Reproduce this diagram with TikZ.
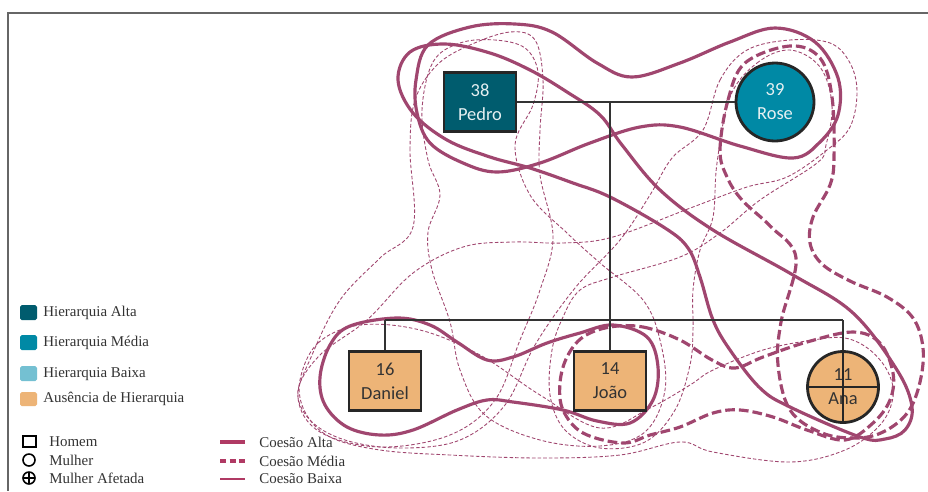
\documentclass[tikz,border=0pt]{standalone}
\usepackage{fontspec}
\setmainfont{Liberation Serif}
\newfontfamily\nodefont{Carlito}
\definecolor{hAlta}{HTML}{005C6E}
\definecolor{hMedia}{HTML}{0089A5}
\definecolor{hBaixa}{HTML}{74C0D2}
\definecolor{ausencia}{HTML}{EDB477}
\definecolor{coes}{HTML}{A0466F}
\definecolor{coesleg}{HTML}{B03A64}
\definecolor{nodeborder}{HTML}{262626}
\definecolor{kinline}{HTML}{333333}
\definecolor{framegray}{HTML}{666666}
\definecolor{legendtext}{HTML}{333333}
\definecolor{darktext}{HTML}{333333}
\definecolor{lighttext}{HTML}{E6F0F2}
\begin{document}
\begin{tikzpicture}[x=0.02cm,y=-0.02cm,
  person/.style={draw=nodeborder,line width=1.6pt,font=\nodefont\fontsize{10.5}{13.7}\selectfont,align=center,inner sep=0pt},
  homem/.style={person,rectangle,minimum width=1.44cm,minimum height=1.18cm},
  mulher/.style={person,circle},
  kin/.style={draw=kinline,line width=0.8pt},
  alta/.style={draw=coes,line width=1.8pt},
  media/.style={draw=coes,line width=1.8pt,dash pattern=on 5.5pt off 2.3pt},
  baixa/.style={draw=coes,line width=0.5pt,dash pattern=on 2pt off 1.2pt},
  legtext/.style={anchor=west,font=\fontsize{8.5}{10}\selectfont,text=legendtext,inner sep=0pt},
  swatch/.style={rounded corners=1pt,draw=none},
  legsym/.style={draw=black,line width=0.9pt},
  leglinea/.style={draw=coesleg,line width=1.8pt},
  leglineb/.style={draw=coesleg,line width=1.8pt,dash pattern=on 3.5pt off 2pt},
  leglinec/.style={draw=coesleg,line width=0.6pt},
]
\useasboundingbox (0,0) rectangle (928,491);
\fill[white] (0,0) rectangle (928,491);

% outer frame
\draw[draw=framegray,line width=0.8pt] (928,13) -- (8,13) -- (8,491);

% ---------- low cohesion (thin dashed) ----------
% Pedro - Daniel
\draw[baixa] plot[smooth cycle,tension=0.6] coordinates {
 (413,227) (410,150) (415,100) (437,65) (470,45) (510,32) (535,40) (543,80)
 (540,130) (540,175) (553,237) (540,290) (520,340) (495,400) (450,435)
 (380,447) (320,432) (298,398) (312,355) (340,300) (380,258)};
% Pedro - Joao
\draw[baixa] plot[smooth cycle,tension=0.6] coordinates {
 (422,110) (433,62) (460,43) (495,40) (525,48) (538,72) (533,105) (515,145)
 (530,195) (567,233) (600,263) (643,300) (660,340) (665,390) (645,432)
 (600,446) (540,440) (485,415) (460,370) (450,322) (432,270) (428,232)
 (440,195) (428,160)};
% Rose - Daniel
\draw[baixa] plot[smooth cycle,tension=0.6] coordinates {
 (703,130) (720,80) (747,50) (790,40) (830,43) (850,63) (857,92) (850,127)
 (827,150) (787,177) (747,187) (693,207) (613,237) (563,243) (513,242)
 (463,247) (413,273) (367,320) (320,355) (298,390) (310,420) (345,440)
 (400,448) (460,440) (505,405) (535,345) (575,288) (620,240) (650,195) (672,158)};
% Rose - Joao
\draw[baixa] plot[smooth cycle,tension=0.6] coordinates {
 (730,97) (757,63) (790,50) (820,67) (832,105) (826,145) (817,163) (760,200)
 (720,233) (680,257) (613,277) (580,290) (563,317) (552,350) (550,395)
 (565,430) (600,448) (645,442) (675,410) (690,365) (693,330) (693,290)
 (700,250) (713,217) (717,163)};
% Daniel - Ana
\draw[baixa] plot[smooth cycle,tension=0.6] coordinates {
 (300,380) (318,343) (360,325) (420,330) (480,355) (540,395) (600,428)
 (650,408) (690,385) (713,370) (763,350) (813,340) (845,338) (870,350)
 (888,372) (893,397) (880,425) (845,450) (790,462) (713,452) (680,442)
 (620,455) (540,458) (450,455) (380,450) (330,437) (305,412)};

% ---------- medium cohesion (thick dashed) ----------
% Rose - Ana
\draw[media] plot[smooth cycle,tension=0.6] coordinates {
 (720,150) (728,100) (745,63) (790,46) (820,58) (832,97) (834,157) (830,185)
 (813,217) (810,243) (822,264) (850,281) (887,297) (913,318) (923,348)
 (920,382) (908,412) (885,431) (858,438) (822,433) (790,410) (778,365)
 (781,322) (796,258) (770,226) (742,200) (727,177)};
% Joao - Ana
\draw[media] plot[smooth cycle,tension=0.6] coordinates {
 (610,327) (643,327) (680,340) (712,360) (735,368) (763,357) (807,342)
 (853,332) (880,343) (893,373) (890,400) (873,423) (845,440) (807,430)
 (773,417) (740,410) (713,413) (680,427) (650,435) (623,443) (583,433)
 (563,410) (560,383) (567,357) (583,337)};

% ---------- high cohesion (thick solid) ----------
% Pedro - Rose
\draw[alta] plot[smooth cycle,tension=0.6] coordinates {
 (428,45) (470,27) (515,24) (552,32) (597,63) (632,77) (680,63) (730,42)
 (775,28) (815,42) (838,78) (838,115) (820,142) (793,158) (740,146)
 (680,127) (640,127) (590,143) (540,163) (497,172) (463,163) (430,143)
 (417,113) (416,80)};
% Pedro - Ana
\draw[alta] plot[smooth cycle,tension=0.6] coordinates {
 (398,80) (410,52) (445,44) (490,53) (530,70) (567,92) (600,115) (622,145)
 (660,190) (713,230) (793,275) (853,313) (897,370) (912,407) (905,430)
 (885,439) (860,437) (790,407) (760,388) (730,350) (713,320) (700,277)
 (688,248) (665,228) (610,197) (573,183) (530,168) (490,157) (447,140)
 (413,113)};
% Daniel - Joao
\draw[alta] plot[smooth cycle,tension=0.6] coordinates {
 (320,377) (330,345) (350,326) (397,318) (430,325) (457,342) (487,360)
 (513,357) (547,343) (580,333) (613,325) (647,337) (658,367) (653,400)
 (630,423) (597,421) (563,410) (513,402) (487,400) (457,410) (413,430)
 (380,435) (347,427) (325,405)};

% ---------- family members ----------
\node[homem,fill=hAlta,text=lighttext] (pedro) at (480,102) {38\\Pedro};
\node[mulher,fill=hMedia,text=lighttext,minimum size=1.56cm] (rose) at (775,102) {39\\Rose};
\node[homem,fill=ausencia,text=darktext] (daniel) at (385,381) {16\\Daniel};
\node[homem,fill=ausencia,text=darktext] (joao) at (610,381) {14\\João};
\node[mulher,fill=ausencia,minimum size=1.42cm] (ana) at (843,387) {};
\node[font=\nodefont\fontsize{10.5}{12}\selectfont,text=darktext,inner sep=0pt] (anaidade) at (843,375) {11};
\node[font=\nodefont\fontsize{10.5}{12}\selectfont,text=darktext,inner sep=0pt] (ananame) at (843,399) {Ana};
\draw[draw=nodeborder,line width=0.9pt] (ana.north) -- (ana.south);
\draw[draw=nodeborder,line width=0.9pt] (ana.west) -- (ana.east);

% ---------- kinship lines ----------
\coordinate (casal) at (610,102);
\coordinate (irmaos) at (610,320);
\coordinate (irmD) at (385,320);
\coordinate (irmA) at (843,320);
\draw[kin] (pedro.east) -- (rose.west);
\draw[kin] (casal) -- (irmaos);
\draw[kin] (irmD) -- (irmA);
\draw[kin] (irmD) -- (daniel.north);
\draw[kin] (irmaos) -- (joao.north);
\draw[kin] (irmA) -- (ana.north);

% ---------- legend: hierarchy ----------
\fill[swatch,hAlta] (20,305) rectangle (37,320);
\node[legtext] (lga) at (43,313) {Hierarquia Alta};
\fill[swatch,hMedia] (20,335) rectangle (37,350);
\node[legtext] (lgm) at (43,343) {Hierarquia Média};
\fill[swatch,hBaixa] (20,366) rectangle (37,381);
\node[legtext] (lgb) at (43,374) {Hierarquia Baixa};
\fill[swatch,ausencia] (20,392) rectangle (37,406);
\node[legtext] (lgs) at (43,399) {Ausência de Hierarquia};

% ---------- legend: symbols ----------
\draw[legsym] (23,436) rectangle (36,447);
\node[legtext] (lgh) at (49,442) {Homem};
\draw[legsym] (29,460) circle (6);
\node[legtext] (lgw) at (49,460) {Mulher};
\draw[legsym] (29,478) circle (6);
\draw[legsym] (23,478) -- (35,478);
\draw[legsym] (29,472) -- (29,484);
\node[legtext] (lgf) at (49,478) {Mulher Afetada};

% ---------- legend: cohesion ----------
\draw[leglinea] (220,442) -- (245,442);
\node[legtext] (lca) at (259,442) {Coesão Alta};
\draw[leglineb] (220,461) -- (245,461);
\node[legtext] (lcm) at (259,461) {Coesão Média};
\draw[leglinec] (220,479) -- (245,479);
\node[legtext] (lcb) at (259,479) {Coesão Baixa};
\end{tikzpicture}
\end{document}
